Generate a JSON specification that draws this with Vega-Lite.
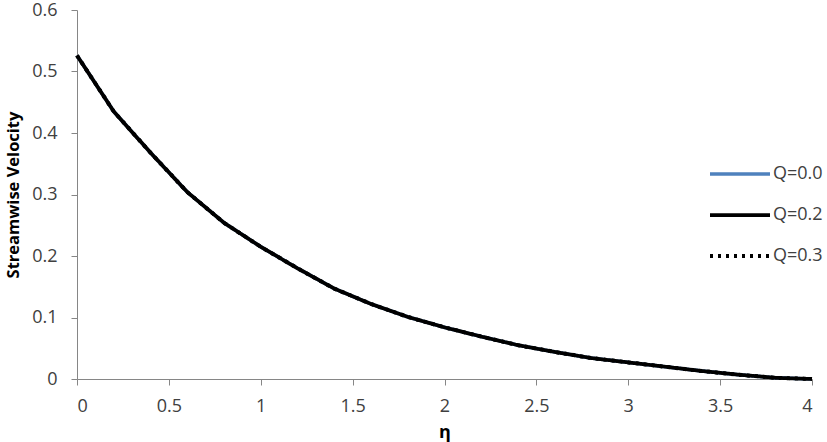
{
  "$schema": "https://vega.github.io/schema/vega-lite/v6.json",
  "width": 735,
  "height": 369,
  "autosize": "none",
  "padding": {"left": 77, "top": 10, "right": 15, "bottom": 63},
  "background": "white",
  "config": {
    "view": {"stroke": null},
    "font": "Open Sans",
    "axis": {
      "grid": false,
      "domainColor": "#868686",
      "tickColor": "#868686",
      "tickSize": 6,
      "labelFont": "Open Sans",
      "labelFontSize": 18,
      "labelColor": "#404040",
      "titleFont": "Open Sans",
      "titleFontWeight": "bold",
      "titleColor": "#000000",
      "titleFontSize": 16
    }
  },
  "data": {
    "values": [
      {"eta": 0.0, "u": 0.526, "Q": "Q=0.0"},
      {"eta": 0.2, "u": 0.435, "Q": "Q=0.0"},
      {"eta": 0.4, "u": 0.368, "Q": "Q=0.0"},
      {"eta": 0.6, "u": 0.304, "Q": "Q=0.0"},
      {"eta": 0.8, "u": 0.254, "Q": "Q=0.0"},
      {"eta": 1.0, "u": 0.215, "Q": "Q=0.0"},
      {"eta": 1.2, "u": 0.18, "Q": "Q=0.0"},
      {"eta": 1.4, "u": 0.147, "Q": "Q=0.0"},
      {"eta": 1.6, "u": 0.122, "Q": "Q=0.0"},
      {"eta": 1.8, "u": 0.101, "Q": "Q=0.0"},
      {"eta": 2.0, "u": 0.084, "Q": "Q=0.0"},
      {"eta": 2.2, "u": 0.069, "Q": "Q=0.0"},
      {"eta": 2.4, "u": 0.055, "Q": "Q=0.0"},
      {"eta": 2.6, "u": 0.044, "Q": "Q=0.0"},
      {"eta": 2.8, "u": 0.034, "Q": "Q=0.0"},
      {"eta": 3.0, "u": 0.027, "Q": "Q=0.0"},
      {"eta": 3.2, "u": 0.02, "Q": "Q=0.0"},
      {"eta": 3.4, "u": 0.013, "Q": "Q=0.0"},
      {"eta": 3.6, "u": 0.007, "Q": "Q=0.0"},
      {"eta": 3.8, "u": 0.002, "Q": "Q=0.0"},
      {"eta": 4.0, "u": 0.0, "Q": "Q=0.0"},
      {"eta": 0.0, "u": 0.526, "Q": "Q=0.2"},
      {"eta": 0.2, "u": 0.435, "Q": "Q=0.2"},
      {"eta": 0.4, "u": 0.368, "Q": "Q=0.2"},
      {"eta": 0.6, "u": 0.304, "Q": "Q=0.2"},
      {"eta": 0.8, "u": 0.254, "Q": "Q=0.2"},
      {"eta": 1.0, "u": 0.215, "Q": "Q=0.2"},
      {"eta": 1.2, "u": 0.18, "Q": "Q=0.2"},
      {"eta": 1.4, "u": 0.147, "Q": "Q=0.2"},
      {"eta": 1.6, "u": 0.122, "Q": "Q=0.2"},
      {"eta": 1.8, "u": 0.101, "Q": "Q=0.2"},
      {"eta": 2.0, "u": 0.084, "Q": "Q=0.2"},
      {"eta": 2.2, "u": 0.069, "Q": "Q=0.2"},
      {"eta": 2.4, "u": 0.055, "Q": "Q=0.2"},
      {"eta": 2.6, "u": 0.044, "Q": "Q=0.2"},
      {"eta": 2.8, "u": 0.034, "Q": "Q=0.2"},
      {"eta": 3.0, "u": 0.027, "Q": "Q=0.2"},
      {"eta": 3.2, "u": 0.02, "Q": "Q=0.2"},
      {"eta": 3.4, "u": 0.013, "Q": "Q=0.2"},
      {"eta": 3.6, "u": 0.007, "Q": "Q=0.2"},
      {"eta": 3.8, "u": 0.002, "Q": "Q=0.2"},
      {"eta": 4.0, "u": 0.0, "Q": "Q=0.2"},
      {"eta": 0.0, "u": 0.526, "Q": "Q=0.3"},
      {"eta": 0.2, "u": 0.435, "Q": "Q=0.3"},
      {"eta": 0.4, "u": 0.368, "Q": "Q=0.3"},
      {"eta": 0.6, "u": 0.304, "Q": "Q=0.3"},
      {"eta": 0.8, "u": 0.254, "Q": "Q=0.3"},
      {"eta": 1.0, "u": 0.215, "Q": "Q=0.3"},
      {"eta": 1.2, "u": 0.18, "Q": "Q=0.3"},
      {"eta": 1.4, "u": 0.147, "Q": "Q=0.3"},
      {"eta": 1.6, "u": 0.122, "Q": "Q=0.3"},
      {"eta": 1.8, "u": 0.101, "Q": "Q=0.3"},
      {"eta": 2.0, "u": 0.084, "Q": "Q=0.3"},
      {"eta": 2.2, "u": 0.069, "Q": "Q=0.3"},
      {"eta": 2.4, "u": 0.055, "Q": "Q=0.3"},
      {"eta": 2.6, "u": 0.044, "Q": "Q=0.3"},
      {"eta": 2.8, "u": 0.034, "Q": "Q=0.3"},
      {"eta": 3.0, "u": 0.027, "Q": "Q=0.3"},
      {"eta": 3.2, "u": 0.02, "Q": "Q=0.3"},
      {"eta": 3.4, "u": 0.013, "Q": "Q=0.3"},
      {"eta": 3.6, "u": 0.007, "Q": "Q=0.3"},
      {"eta": 3.8, "u": 0.002, "Q": "Q=0.3"},
      {"eta": 4.0, "u": 0.0, "Q": "Q=0.3"}
    ]
  },
  "mark": {"type": "line", "strokeJoin": "round", "strokeCap": "butt"},
  "encoding": {
    "x": {
      "field": "eta",
      "type": "quantitative",
      "scale": {"domain": [0, 4], "nice": false, "zero": false},
      "axis": {
        "title": "η",
        "values": [0, 0.5, 1, 1.5, 2, 2.5, 3, 3.5, 4],
        "format": "~g",
        "labelPadding": 12,
        "titlePadding": 8,
        "titleFontSize": 18
      }
    },
    "y": {
      "field": "u",
      "type": "quantitative",
      "scale": {"domain": [0, 0.6], "nice": false},
      "axis": {
        "title": "Streamwise Velocity",
        "values": [0, 0.1, 0.2, 0.3, 0.4, 0.5, 0.6],
        "format": "~g",
        "labelPadding": 14,
        "titlePadding": 10,
        "titleFontSize": 16.5
      }
    },
    "color": {
      "field": "Q",
      "type": "nominal",
      "scale": {"domain": ["Q=0.0", "Q=0.2", "Q=0.3"], "range": ["#4F81BD", "#000000", "#000000"]},
      "legend": {
        "title": null,
        "orient": "none",
        "legendX": 631,
        "legendY": 132,
        "symbolType": "stroke",
        "symbolSize": 3600,
        "labelFont": "Open Sans",
        "labelFontSize": 18,
        "labelColor": "#404040",
        "labelOffset": 1,
        "rowPadding": 0
      }
    },
    "strokeWidth": {
      "field": "Q",
      "type": "nominal",
      "scale": {"domain": ["Q=0.0", "Q=0.2", "Q=0.3"], "range": [3.5, 4, 3]},
      "legend": {
        "title": null,
        "orient": "none",
        "legendX": 631,
        "legendY": 132,
        "symbolType": "stroke",
        "symbolSize": 3600,
        "labelFont": "Open Sans",
        "labelFontSize": 18,
        "labelColor": "#404040",
        "labelOffset": 1,
        "rowPadding": 0
      }
    },
    "strokeDash": {
      "field": "Q",
      "type": "nominal",
      "scale": {"domain": ["Q=0.0", "Q=0.2", "Q=0.3"], "range": [[1, 0], [1, 0], [3, 5]]},
      "legend": {
        "title": null,
        "orient": "none",
        "legendX": 631,
        "legendY": 132,
        "symbolType": "stroke",
        "symbolSize": 3600,
        "labelFont": "Open Sans",
        "labelFontSize": 18,
        "labelColor": "#404040",
        "labelOffset": 1,
        "rowPadding": 0
      }
    }
  }
}
